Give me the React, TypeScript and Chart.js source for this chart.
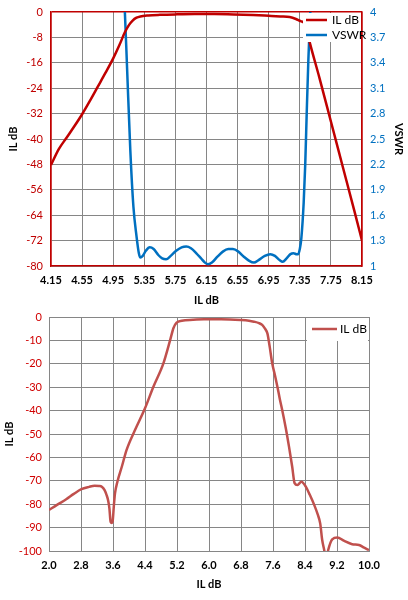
import { useEffect, useRef } from "react";
import { Chart, registerables } from "chart.js";

Chart.register(...registerables);

// ---------- Top chart data ----------
const topFreq = [4.15, 4.25, 4.35, 4.45, 4.55, 4.65, 4.75, 4.85, 4.95, 5.03, 5.1, 5.15, 5.2, 5.25, 5.3, 5.4, 5.55, 5.75, 6.0, 6.25, 6.5, 6.75, 6.95, 7.1, 7.22, 7.3, 7.36, 7.42, 7.48, 7.6, 7.75, 7.9, 8.05, 8.15];
const topIL = [-48.2, -43.2, -39.6, -36, -32.2, -28, -23.6, -19.2, -14.6, -10.4, -6.4, -4.2, -2.7, -1.8, -1.4, -1.1, -0.9, -0.75, -0.65, -0.65, -0.75, -0.95, -1.2, -1.4, -1.6, -2.2, -2.9, -3.8, -9.8, -20.5, -34.5, -48.5, -62.5, -72];
const vswrFreq = [5.08, 5.1, 5.13, 5.17, 5.21, 5.25, 5.28, 5.3, 5.33, 5.37, 5.42, 5.47, 5.53, 5.58, 5.63, 5.69, 5.76, 5.83, 5.89, 5.95, 6.02, 6.08, 6.13, 6.17, 6.22, 6.29, 6.36, 6.43, 6.49, 6.56, 6.63, 6.7, 6.76, 6.82, 6.9, 6.97, 7.03, 7.09, 7.13, 7.18, 7.23, 7.27, 7.31, 7.33, 7.35, 7.37, 7.4, 7.42, 7.44, 7.46, 7.48, 7.5];
const vswrValues = [4.3, 4.0, 3.3, 2.37, 1.7, 1.35, 1.15, 1.1, 1.12, 1.18, 1.22, 1.2, 1.13, 1.09, 1.08, 1.12, 1.18, 1.22, 1.23, 1.21, 1.15, 1.09, 1.04, 1.02, 1.04, 1.11, 1.17, 1.2, 1.2, 1.17, 1.11, 1.06, 1.04, 1.07, 1.12, 1.14, 1.12, 1.07, 1.05, 1.09, 1.14, 1.15, 1.14, 1.14, 1.2, 1.33, 1.75, 2.2, 2.84, 3.43, 3.9, 4.3];
const topXTicks = [4.15, 4.55, 4.95, 5.35, 5.75, 6.15, 6.55, 6.95, 7.35, 7.75, 8.15];
const topLeftTicks = [-80, -72, -64, -56, -48, -40, -32, -24, -16, -8, 0];
const topRightTicks = [1, 1.3, 1.6, 1.9, 2.2, 2.5, 2.8, 3.1, 3.4, 3.7, 4];

// ---------- Bottom chart data ----------
const bottomFreq = [2.0, 2.2, 2.43, 2.62, 2.81, 3.0, 3.14, 3.25, 3.32, 3.39, 3.44, 3.48, 3.51, 3.54, 3.57, 3.59, 3.62, 3.65, 3.71, 3.82, 3.94, 4.15, 4.4, 4.61, 4.86, 5.03, 5.11, 5.19, 5.32, 5.6, 5.875, 6.3, 6.79, 7.0, 7.125, 7.25, 7.33, 7.4, 7.46, 7.52, 7.58, 7.65, 7.71, 7.77, 7.83, 7.92, 8.0, 8.08, 8.14, 8.21, 8.31, 8.42, 8.52, 8.63, 8.72, 8.78, 8.83, 8.88, 8.93, 8.98, 9.08, 9.21, 9.37, 9.58, 9.75, 9.88, 10.0];
const bottomIL = [-82.5, -80.3, -77.9, -75.6, -73.6, -72.6, -72.1, -72.2, -72.5, -74, -76.1, -78.5, -81.8, -87.5, -88, -87.5, -81, -75.4, -70.4, -64, -56.8, -48.3, -39, -29.8, -19.8, -9.8, -4.8, -2.4, -1.6, -1.2, -1.0, -1.0, -1.3, -1.6, -2.0, -2.6, -3.4, -5, -7, -13, -19.8, -25, -29.8, -35, -39.7, -47.5, -55.4, -64, -71, -71.8, -70.4, -72.5, -76, -80.3, -84.5, -88.2, -95.3, -99.6, -104, -99.6, -95, -94.2, -95.6, -97.1, -97.4, -98.6, -99.6];
const bottomXTicks = [2.0, 2.8, 3.6, 4.4, 5.2, 6.0, 6.8, 7.6, 8.4, 9.2, 10.0];
const bottomYTicks = [-100, -90, -80, -70, -60, -50, -40, -30, -20, -10, 0];

const RED = "#C00000";
const BLUE = "#0070C0";
const GRID = "#868686";
const FONT = 'Lato, "Liberation Sans", sans-serif';

Chart.defaults.font.family = FONT;

function insideLegend(id: string, cfg: { w: number; h: number; rowY: number[]; lx0: number; lx1: number; tx: number }) {
  return {
    id,
    afterDatasetsDraw(chart: any) {
      const ctx = chart.ctx;
      const ca = chart.chartArea;
      const left = ca.right - cfg.w;
      ctx.save();
      ctx.fillStyle = "#ffffff";
      ctx.fillRect(left, ca.top + 1, cfg.w - 1, cfg.h);
      ctx.font = `12px ${FONT}`;
      ctx.textBaseline = "middle";
      ctx.textAlign = "left";
      chart.data.datasets.forEach((ds: any, i: number) => {
        const y = ca.top + cfg.rowY[i];
        ctx.strokeStyle = ds.borderColor;
        ctx.lineWidth = 2.5;
        ctx.beginPath();
        ctx.moveTo(left + cfg.lx0, y);
        ctx.lineTo(left + cfg.lx1, y);
        ctx.stroke();
        ctx.fillStyle = "#000";
        ctx.fillText(ds.label, left + cfg.tx, y + 0.5);
      });
      ctx.restore();
    },
  };
}

function fmt(v: number, d: number) {
  return Number(v.toFixed(d)).toString();
}

function fixVertical(width: number) {
  return (s: any) => {
    s.width = width;
    s.paddingTop = 0;
    s.paddingBottom = 0;
  };
}

export default function App() {
  const topRef = useRef<HTMLCanvasElement>(null);
  const botRef = useRef<HTMLCanvasElement>(null);

  useEffect(() => {
    const top = new Chart(topRef.current as HTMLCanvasElement, {
      type: "line",
      data: {
        datasets: [
          {
            label: "IL dB",
            data: topFreq.map((f, i) => ({ x: f, y: topIL[i] })),
            borderColor: RED,
            borderWidth: 2.5,
            pointRadius: 0,
            cubicInterpolationMode: "monotone",
            yAxisID: "y",
          },
          {
            label: "VSWR",
            data: vswrFreq.map((f, i) => ({ x: f, y: vswrValues[i] })),
            borderColor: BLUE,
            borderWidth: 2.5,
            pointRadius: 0,
            cubicInterpolationMode: "monotone",
            yAxisID: "y1",
          },
        ],
      },
      options: {
        responsive: false,
        animation: false,
        layout: { padding: { top: 12, left: 0, right: 0, bottom: 0 } },
        plugins: { legend: { display: false }, tooltip: { enabled: false } },
        scales: {
          x: {
            type: "linear",
            min: 4.15,
            max: 8.15,
            afterBuildTicks: (s: any) => {
              s.ticks = topXTicks.map((v) => ({ value: v }));
            },
            afterFit: (s: any) => {
              s.height = 42;
            },
            ticks: {
              color: "#000",
              font: { size: 11, weight: "bold" },
              padding: 8,
              maxRotation: 0,
              autoSkip: false,
              callback: (v: any) => Number(v).toFixed(2),
            },
            grid: {
              drawTicks: false,
              color: (c: any) => (c.index === 0 || c.index === topXTicks.length - 1 ? RED : GRID),
              lineWidth: (c: any) => (c.index === 0 || c.index === topXTicks.length - 1 ? 1.5 : 1),
            },
            border: { color: RED, width: 1.5 },
            title: { display: true, text: "IL dB", color: "#000", font: { size: 11, weight: "bold" }, padding: { top: 0, bottom: 1 } },
          },
          y: {
            type: "linear",
            position: "left",
            min: -80,
            max: 0,
            afterBuildTicks: (s: any) => {
              s.ticks = topLeftTicks.map((v) => ({ value: v }));
            },
            afterFit: fixVertical(51),
            ticks: { color: RED, font: { size: 11 }, padding: 8, autoSkip: false, callback: (v: any) => fmt(Number(v), 0) },
            grid: {
              drawTicks: false,
              color: (c: any) => (c.tick && c.tick.value === 0 ? RED : GRID),
              lineWidth: (c: any) => (c.tick && c.tick.value === 0 ? 1.5 : 1),
            },
            border: { color: RED, width: 1.5 },
            title: { display: true, text: "IL dB", color: "#000", font: { size: 11, weight: "bold" }, padding: { top: 7, bottom: 0 } },
          },
          y1: {
            type: "linear",
            position: "right",
            min: 1,
            max: 4,
            afterBuildTicks: (s: any) => {
              s.ticks = topRightTicks.map((v) => ({ value: v }));
            },
            afterFit: fixVertical(46),
            ticks: { color: BLUE, font: { size: 11 }, padding: 8, autoSkip: false, callback: (v: any) => fmt(Number(v), 1) },
            grid: { display: false, drawTicks: false },
            border: { color: RED, width: 1.5 },
            title: { display: true, text: "VSWR", color: "#000", font: { size: 11, weight: "bold" }, padding: { top: 3, bottom: 0 } },
          },
        },
      } as any,
      plugins: [insideLegend("topLegend", { w: 59, h: 29, rowY: [8, 23], lx0: 3, lx1: 24, tx: 29 })],
    });

    const bottom = new Chart(botRef.current as HTMLCanvasElement, {
      type: "line",
      data: {
        datasets: [
          {
            label: "IL dB",
            data: bottomFreq.map((f, i) => ({ x: f, y: bottomIL[i] })),
            borderColor: "#C0504D",
            borderWidth: 2.5,
            pointRadius: 0,
            cubicInterpolationMode: "monotone",
          },
        ],
      },
      options: {
        responsive: false,
        animation: false,
        layout: { padding: { top: 9, left: 0, right: 39, bottom: 0 } },
        plugins: { legend: { display: false }, tooltip: { enabled: false } },
        scales: {
          x: {
            type: "linear",
            min: 2,
            max: 10,
            afterBuildTicks: (s: any) => {
              s.ticks = bottomXTicks.map((v) => ({ value: v }));
            },
            afterFit: (s: any) => {
              s.height = 49;
            },
            ticks: {
              color: "#000",
              font: { size: 11, weight: "bold" },
              padding: 8,
              maxRotation: 0,
              autoSkip: false,
              callback: (v: any) => Number(v).toFixed(1),
            },
            grid: { drawTicks: false, color: GRID, lineWidth: 1 },
            border: { color: GRID, width: 1 },
            title: { display: true, text: "IL dB", color: "#000", font: { size: 11, weight: "bold" }, padding: { top: 0, bottom: 9 } },
          },
          y: {
            type: "linear",
            position: "left",
            min: -100,
            max: 0,
            afterBuildTicks: (s: any) => {
              s.ticks = bottomYTicks.map((v) => ({ value: v }));
            },
            afterFit: fixVertical(49),
            ticks: { color: "#D00000", font: { size: 11 }, padding: 7, autoSkip: false, callback: (v: any) => fmt(Number(v), 0) },
            grid: { drawTicks: false, color: GRID, lineWidth: 1 },
            border: { color: GRID, width: 1 },
            title: { display: true, text: "IL dB", color: "#000", font: { size: 11, weight: "bold" }, padding: { top: 3, bottom: 0 } },
          },
        },
      } as any,
      plugins: [insideLegend("bottomLegend", { w: 62, h: 23, rowY: [12], lx0: 5, lx1: 30, tx: 33 })],
    });

    return () => {
      top.destroy();
      bottom.destroy();
    };
  }, []);

  return (
    <div style={{ position: "fixed", left: 0, top: 0, width: 408, height: 600, background: "#fff" }}>
      <canvas ref={topRef} width={408} height={308} style={{ position: "absolute", left: 0, top: 0, width: 408, height: 308 }} />
      <canvas ref={botRef} width={408} height={292} style={{ position: "absolute", left: 0, top: 308, width: 408, height: 292 }} />
    </div>
  );
}
